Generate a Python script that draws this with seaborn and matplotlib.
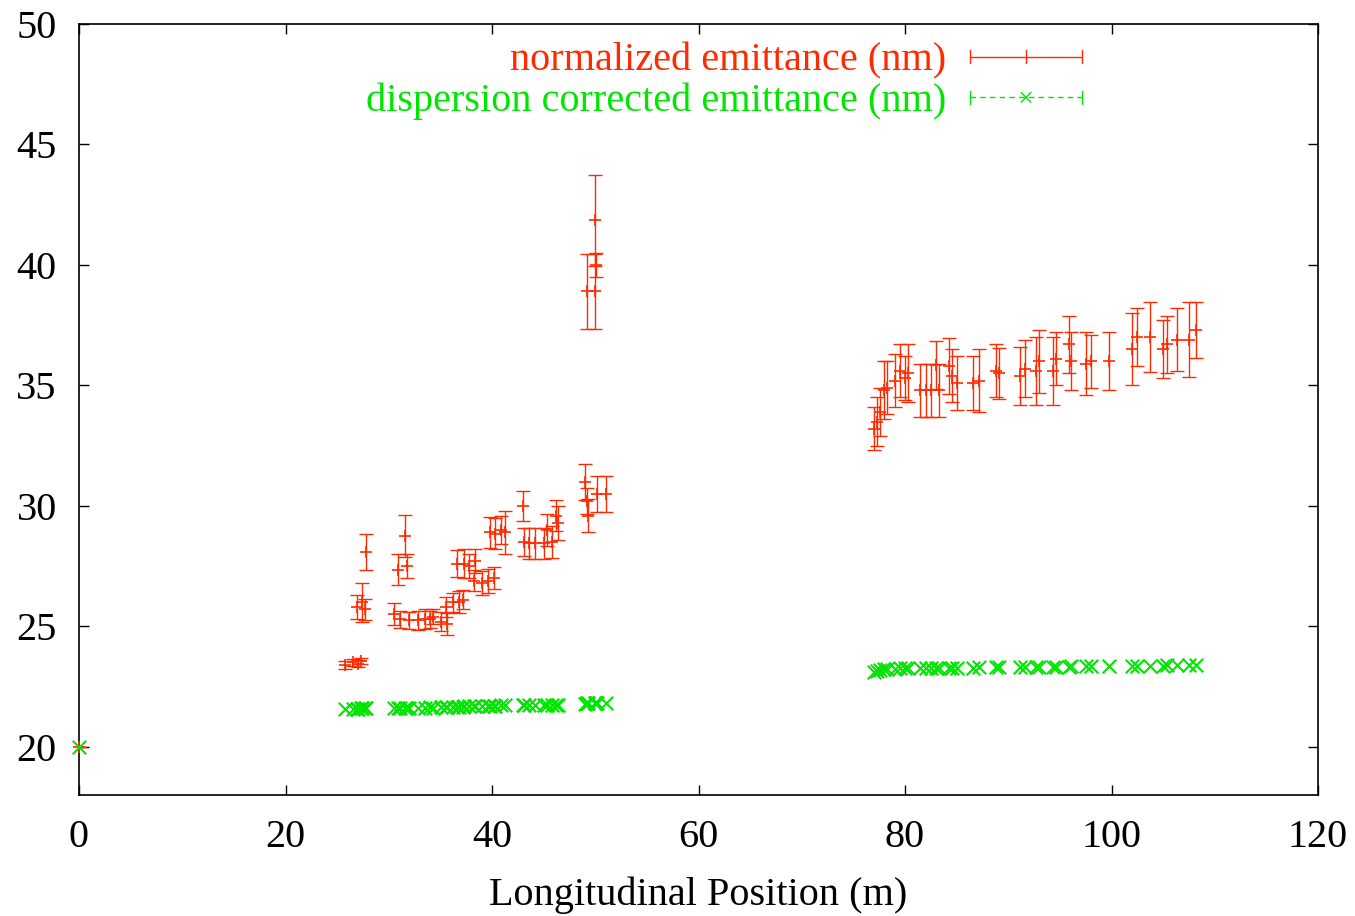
import numpy as np
import pandas as pd
import matplotlib
matplotlib.use("Agg")
import matplotlib.pyplot as plt
import seaborn as sns
from matplotlib.lines import Line2D
from matplotlib.legend_handler import HandlerBase

# ---------------- data ----------------
position = [
    0.0,
    25.8, 26.5, 27.0, 27.3, 26.9, 27.4, 27.7, 27.8,
    30.5, 31.1, 30.9, 31.6, 31.8, 32.0, 32.8, 33.5, 34.0, 34.3,
    35.1, 35.6, 35.5, 36.2, 36.8, 37.2, 36.6, 37.3, 37.8, 38.4,
    38.3, 39.0, 39.6, 40.2, 39.8, 40.3, 40.9, 41.3,
    43.0, 43.1, 43.6, 44.2, 45.0, 45.3, 45.8, 46.2, 46.4,
    49.0, 49.2, 49.3, 50.2, 51.0, 49.2, 50.0, 50.1, 50.0,
    77.0, 77.3, 77.6, 78.0, 78.3, 79.0, 79.5, 80.0, 80.3,
    81.5, 82.0, 82.5, 83.0, 83.3, 84.3, 84.6, 85.0, 86.6, 87.2,
    88.8, 89.1, 91.1, 91.6, 92.7, 93.0, 94.3, 94.6, 95.9, 96.1,
    97.5, 98.0, 99.8, 102.0, 102.5, 103.7, 105.0, 105.4, 106.3,
    107.5, 108.2,
]
emittance = [
    20.0,
    23.40, 23.50, 23.45, 23.55, 25.8, 26.0, 25.7, 28.1,
    25.5, 25.3, 27.35, 28.75, 27.5, 25.25, 25.25, 25.3, 25.3, 25.4,
    25.2, 25.1, 25.8, 26.0, 26.0, 26.1, 27.6, 27.6, 27.5, 27.7,
    26.9, 26.8, 26.9, 27.0, 28.9, 28.85, 29.0, 28.9,
    30.0, 28.5, 28.45, 28.45, 28.45, 29.0, 28.5, 29.6, 29.3,
    31.0, 30.2, 29.6, 30.5, 30.5, 38.9, 38.9, 40.0, 41.85,
    33.2, 33.5, 33.9, 34.8, 34.9, 35.2, 35.6, 35.3, 35.5,
    34.8, 34.8, 34.8, 35.85, 34.8, 35.8, 35.4, 35.1, 35.1, 35.2,
    35.6, 35.5, 35.4, 35.7, 35.6, 36.0, 35.6, 36.1, 36.7, 36.0,
    35.9, 36.0, 36.0, 36.5, 37.0, 37.0, 36.5, 36.7, 36.9,
    36.9, 37.3,
]
emittance_err = [
    0.0,
    0.15, 0.15, 0.15, 0.12, 0.5, 0.8, 0.45, 0.75,
    0.45, 0.35, 0.65, 0.88, 0.5, 0.35, 0.4, 0.4, 0.35, 0.3,
    0.4, 0.45, 0.4, 0.4, 0.45, 0.4, 0.55, 0.6, 0.5, 0.5,
    0.45, 0.5, 0.5, 0.45, 0.65, 0.65, 0.6, 0.9,
    0.62, 0.6, 0.65, 0.65, 0.65, 0.65, 0.65, 0.65, 0.7,
    0.75, 0.55, 0.7, 0.75, 0.75, 1.55, 1.55, 0.5, 1.9,
    0.9, 1.0, 1.0, 1.2, 1.1, 1.1, 1.1, 0.9, 1.2,
    1.1, 1.1, 1.1, 1.0, 1.1, 1.15, 1.1, 1.1, 1.1, 1.3,
    1.1, 1.05, 1.2, 1.2, 1.4, 1.3, 1.4, 1.1, 1.2, 1.2,
    1.3, 1.1, 1.2, 1.5, 1.2, 1.45, 1.2, 1.2, 1.3,
    1.55, 1.15,
]
dispersion_corrected = [
    20.0,
    21.55, 21.58, 21.58, 21.6, 21.57, 21.6, 21.6, 21.6,
    21.6, 21.62, 21.6, 21.62, 21.62, 21.6, 21.62, 21.62, 21.64, 21.62,
    21.64, 21.65, 21.66, 21.66, 21.67, 21.67, 21.67, 21.68, 21.68, 21.68,
    21.68, 21.69, 21.7, 21.7, 21.7, 21.71, 21.72, 21.72,
    21.72, 21.73, 21.73, 21.73, 21.74, 21.74, 21.74, 21.75, 21.75,
    21.78, 21.8, 21.8, 21.82, 21.82, 21.8, 21.8, 21.8, 21.8,
    23.12, 23.16, 23.2, 23.22, 23.24, 23.25, 23.26, 23.26, 23.26,
    23.26, 23.27, 23.27, 23.27, 23.28, 23.28, 23.28, 23.29, 23.29, 23.3,
    23.3, 23.3, 23.31, 23.31, 23.31, 23.32, 23.32, 23.33, 23.33, 23.34,
    23.34, 23.35, 23.35, 23.36, 23.36, 23.37, 23.37, 23.38, 23.38,
    23.38, 23.39,
]

x_ticks = [0, 20, 40, 60, 80, 100, 120]
y_ticks = [20, 25, 30, 35, 40, 45, 50]
label_red = "normalized emittance (nm)"
label_green = "dispersion corrected emittance (nm)"
x_label = "Longitudinal Position (m)"

RED = "#ff2a00"
GREEN = "#00e600"
FS = 29

df = pd.DataFrame({
    "position": position,
    "emittance": emittance,
    "err": emittance_err,
    "dispersion": dispersion_corrected,
})

# ---------------- style ----------------
sns.set_theme(style="ticks")
plt.rcParams["font.family"] = ["Liberation Serif", "DejaVu Serif"]
plt.rcParams["axes.linewidth"] = 1.2

fig = plt.figure(figsize=(13.55, 9.16), dpi=100)
ax = fig.add_axes([79 / 1355, 1 - 795 / 916, (1318 - 79) / 1355, (795 - 24) / 916])

# red error bars + "+" markers
ax.errorbar(df["position"], df["emittance"], yerr=df["err"], fmt="none",
            ecolor=RED, elinewidth=1.0, capsize=4.7, capthick=1.0, zorder=2)
sns.scatterplot(data=df, x="position", y="emittance", marker="+", s=85,
                color=RED, linewidth=1.2, ax=ax, zorder=3, clip_on=False,
                legend=False)
# green "x" markers
sns.scatterplot(data=df, x="position", y="dispersion", marker="x", s=95,
                color=GREEN, linewidth=1.5, ax=ax, zorder=4, clip_on=False,
                legend=False)

ax.set_xlim(0, 120)
ax.set_ylim(18, 50)
ax.set_xticks(x_ticks)
ax.set_yticks(y_ticks)
ax.tick_params(direction="in", length=7, width=1.0, top=True, right=True,
               labelsize=FS, colors="black")
ax.tick_params(axis="y", pad=16)
ax.tick_params(axis="x", pad=17.5)
for s in ax.spines.values():
    s.set_visible(True)
    s.set_color("black")
ax.set_xlabel(x_label, fontsize=FS, labelpad=14.5, color="black")
ax.set_ylabel("")


# ---------------- gnuplot-style legend ----------------
class GnuSample:
    def __init__(self, color, ls, marker):
        self.color = color
        self.ls = ls
        self.marker = marker


class GnuHandler(HandlerBase):
    def create_artists(self, legend, orig_handle, xdescent, ydescent,
                       width, height, fontsize, trans):
        y = height / 2 - ydescent
        x0 = -xdescent
        x1 = -xdescent + width
        xm = (x0 + x1) / 2
        c = orig_handle.color
        h = 4.7
        arts = [
            Line2D([x0, x1], [y, y], color=c, lw=1.0, linestyle=orig_handle.ls),
            Line2D([x0, x0], [y - h, y + h], color=c, lw=1.0),
            Line2D([x1, x1], [y - h, y + h], color=c, lw=1.0),
        ]
        if orig_handle.marker == "+":
            arts.append(Line2D([xm, xm], [y - h, y + h], color=c, lw=1.0))
        else:
            m = 3.5
            arts.append(Line2D([xm - m, xm + m], [y - m, y + m], color=c, lw=1.0))
            arts.append(Line2D([xm - m, xm + m], [y + m, y - m], color=c, lw=1.0))
        for a in arts:
            a.set_transform(trans)
        return arts


h_red = GnuSample(RED, "-", "+")
h_green = GnuSample(GREEN, (0, (4, 3)), "x")
leg = ax.legend([h_red, h_green], [label_red, label_green],
                handler_map={GnuSample: GnuHandler()},
                loc="upper right", bbox_to_anchor=((1082 - 79) / 1239, 0.976),
                frameon=False, markerfirst=False, fontsize=FS,
                handlelength=80.6 / FS, handletextpad=17.0 / FS, borderpad=0,
                borderaxespad=0, labelspacing=0.08)
leg.get_texts()[0].set_color(RED)
leg.get_texts()[1].set_color(GREEN)

fig.savefig("out.png", dpi=100)
